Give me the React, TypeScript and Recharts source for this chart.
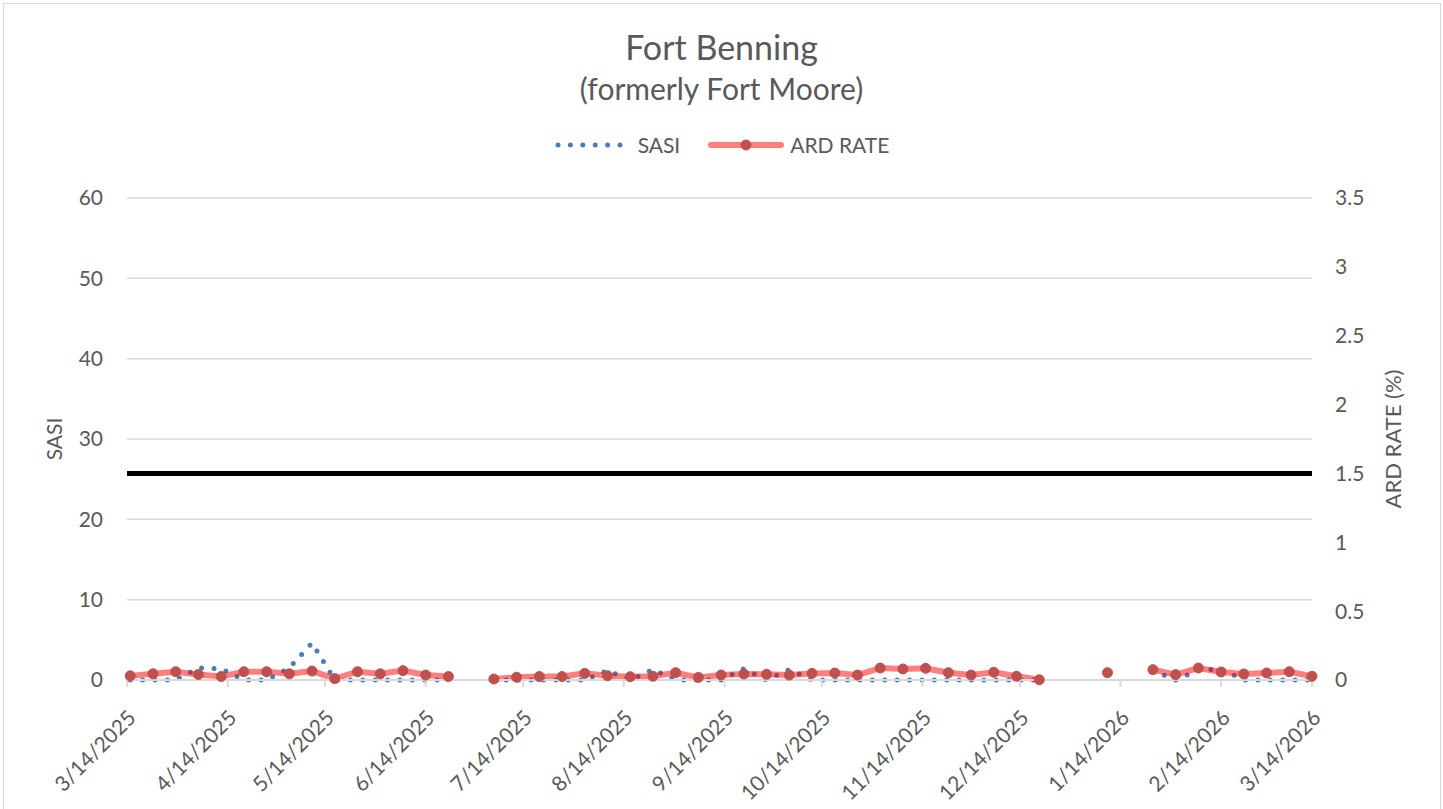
import React from 'react';
import { ComposedChart, Line, XAxis, YAxis, CartesianGrid, ReferenceLine, Label } from 'recharts';

// weekly report dates (Saturdays)
const weekDates = [
  '3/15/2025', '3/22/2025', '3/29/2025', '4/5/2025', '4/12/2025', '4/19/2025', '4/26/2025',
  '5/3/2025', '5/10/2025', '5/17/2025', '5/24/2025', '5/31/2025', '6/7/2025', '6/14/2025',
  '6/21/2025', '6/28/2025', '7/5/2025', '7/12/2025', '7/19/2025', '7/26/2025', '8/2/2025',
  '8/9/2025', '8/16/2025', '8/23/2025', '8/30/2025', '9/6/2025', '9/13/2025', '9/20/2025',
  '9/27/2025', '10/4/2025', '10/11/2025', '10/18/2025', '10/25/2025', '11/1/2025', '11/8/2025',
  '11/15/2025', '11/22/2025', '11/29/2025', '12/6/2025', '12/13/2025', '12/20/2025', '12/27/2025',
  '1/3/2026', '1/10/2026', '1/17/2026', '1/24/2026', '1/31/2026', '2/7/2026', '2/14/2026',
  '2/21/2026', '2/28/2026', '3/7/2026', '3/14/2026',
];

const sasiValues = [
  0, 0, 0, 1.5, 1.4, 0, 0,
  1.5, 4.6, 0, 0, 0, 0, 0,
  0, null, 0, 0, 0, 0, 0,
  1.2, 0, 1.3, 0, 0, 0, 1.4,
  0, 1.3, 0, 0, 0, 0, 0,
  0, 0, 0, 0, 0, 0, null,
  null, null, null, 1.2, 0, 1.2, 1.4,
  0, 0, 0, 0,
];

const ardValues = [
  0.03, 0.045, 0.06, 0.04, 0.025, 0.06, 0.06,
  0.045, 0.065, 0.01, 0.06, 0.045, 0.068, 0.036,
  0.025, null, 0.007, 0.02, 0.025, 0.025, 0.048,
  0.031, 0.024, 0.027, 0.053, 0.019, 0.036, 0.044,
  0.041, 0.036, 0.048, 0.051, 0.036, 0.087, 0.08,
  0.085, 0.053, 0.036, 0.056, 0.027, 0.002, null,
  null, 0.053, null, 0.075, 0.039, 0.087, 0.058,
  0.044, 0.051, 0.06, 0.027,
];

const tickLabels = [
  '3/14/2025', '4/14/2025', '5/14/2025', '6/14/2025', '7/14/2025', '8/14/2025', '9/14/2025',
  '10/14/2025', '11/14/2025', '12/14/2025', '1/14/2026', '2/14/2026', '3/14/2026',
];

const sasiTicks = [0, 10, 20, 30, 40, 50, 60];
const ardTicks = [0, 0.5, 1, 1.5, 2, 2.5, 3, 3.5];
const ardThreshold = 1.5;

const toDay = (s: string) => {
  const [m, d, y] = s.split('/').map(Number);
  return Math.round((Date.UTC(y, m - 1, d) - Date.UTC(2025, 2, 14)) / 86400000);
};

const data = weekDates.map((d, i) => ({ day: toDay(d), sasi: sasiValues[i], ard: ardValues[i] }));
const tickDays = tickLabels.map(toDay);

const FONT = 'Lato, "Open Sans", sans-serif';
const GREY = '#595959';
const BLUE = '#4a7ebb';

const DateTick = (props: any) => {
  const { x, y, payload } = props;
  const i = tickDays.indexOf(payload.value);
  return (
    <g transform={`translate(${x + 5},${y + 25})`}>
      <text x={0} y={0} dy="0.35em" textAnchor="end" transform="rotate(-45)"
        fill={GREY} fontSize={21} fontFamily={FONT}>
        {tickLabels[i]}
      </text>
    </g>
  );
};

const ChartLegend = () => (
  <div style={{ position: 'absolute', top: 132, left: 0, width: 1443, display: 'flex', justifyContent: 'center',
    alignItems: 'center', fontFamily: FONT, fontSize: 21, color: GREY }}>
    <svg width={74} height={20} style={{ marginRight: 10 }}>
      <line x1={4} y1={10} x2={70} y2={10} stroke={BLUE} strokeWidth={5} strokeDasharray="0 12.4" strokeLinecap="round" />
    </svg>
    <span style={{ marginRight: 28 }}>SASI</span>
    <svg width={76} height={20} style={{ marginRight: 6 }}>
      <line x1={3} y1={10} x2={73} y2={10} stroke="#ff0000" strokeOpacity={0.5} strokeWidth={6} strokeLinecap="round" />
      <circle cx={38} cy={10} r={5} fill="#c0504d" stroke="#c0504d" />
    </svg>
    <span>ARD RATE</span>
  </div>
);

export default function App() {
  return (
    <div style={{ position: 'absolute', left: 0, top: 0, width: 1443, height: 809, background: '#fff', overflow: 'hidden' }}>
      <div style={{ position: 'absolute', left: 3, top: 3, width: 1436, height: 830, border: '1px solid #d9d9d9' }} />
      <div style={{ position: 'absolute', top: 25, left: 0, width: 1443, textAlign: 'center', fontFamily: FONT,
        color: GREY, fontSize: 34, lineHeight: '44px' }}>Fort Benning</div>
      <div style={{ position: 'absolute', top: 70, left: 0, width: 1443, textAlign: 'center', fontFamily: FONT,
        color: GREY, fontSize: 30, lineHeight: '36px' }}>(formerly Fort Moore)</div>
      <ChartLegend />
      <div style={{ position: 'absolute', left: 0, top: 0 }}>
        <ComposedChart width={1443} height={809} data={data}
          margin={{ top: 198, right: 51, bottom: 29, left: 47 }}>
          <CartesianGrid yAxisId="left" vertical={false} stroke="#d9d9d9" strokeWidth={1.5} />
          <XAxis dataKey="day" type="number" domain={[0, 365]} ticks={tickDays} height={100}
            axisLine={{ stroke: '#d9d9d9', strokeWidth: 2 }} tickLine={{ stroke: '#d9d9d9', strokeWidth: 2 }}
            tickSize={7} tick={<DateTick />} interval={0} />
          <YAxis yAxisId="left" domain={[0, 60]} ticks={sasiTicks} width={80} axisLine={false} tickLine={false}
            tickSize={0} tickMargin={24} tick={{ fill: GREY, fontSize: 21, fontFamily: FONT }}>
            <Label value="SASI" angle={-90} position="center" dx={-32} fill={GREY} fontSize={21} fontFamily={FONT} />
          </YAxis>
          <YAxis yAxisId="right" orientation="right" domain={[0, 3.5]} ticks={ardTicks} width={80} axisLine={false}
            tickLine={false} tickSize={0} tickMargin={23} tick={{ fill: GREY, fontSize: 21, fontFamily: FONT, textAnchor: 'start' }}>
            <Label value="ARD RATE (%)" angle={-90} position="center" dx={41} fill={GREY} fontSize={22} fontFamily={FONT} />
          </YAxis>
          <ReferenceLine yAxisId="right" y={ardThreshold} stroke="#000" strokeWidth={5} />
          <Line yAxisId="left" dataKey="sasi" stroke={BLUE} strokeWidth={5} strokeDasharray="0 12.4"
            strokeLinecap="round" dot={false} activeDot={false} isAnimationActive={false} connectNulls={false} />
          <Line yAxisId="right" dataKey="ard" stroke="#ff0000" strokeOpacity={0.5} strokeWidth={6}
            dot={{ r: 5, fill: '#c0504d', stroke: '#c0504d', strokeWidth: 1, strokeOpacity: 1 }}
            activeDot={false} isAnimationActive={false} connectNulls={false} />
        </ComposedChart>
      </div>
    </div>
  );
}
